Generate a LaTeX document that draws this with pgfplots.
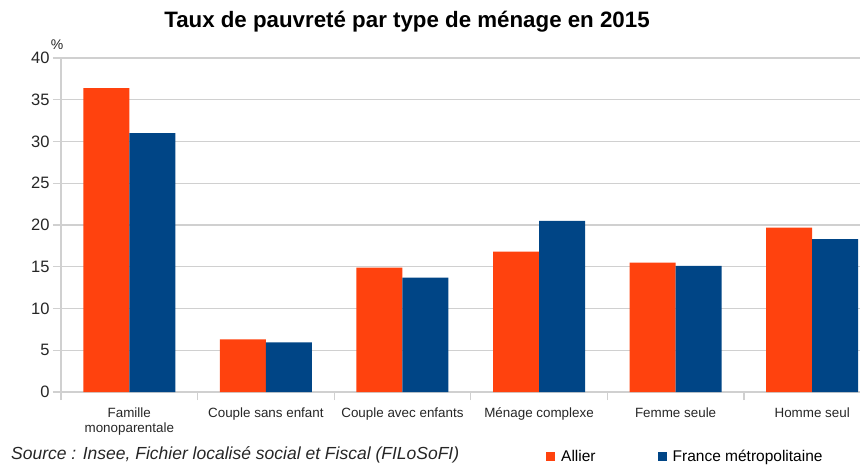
\documentclass[border=0pt]{standalone}
\usepackage{pgfplots}
\pgfplotsset{compat=1.18}
\usepackage{fontspec}
\setmainfont{Liberation Sans}
\definecolor{allier}{HTML}{FF420E}
\definecolor{france}{HTML}{004586}
\definecolor{gridc}{HTML}{D0D0D0}
\begin{document}
\begin{tikzpicture}[x=1pt,y=1pt]
\path[use as bounding box] (0,0) rectangle (860,464);
\begin{axis}[
  at={(61pt,72pt)}, anchor=south west,
  scale only axis, width=799pt, height=334pt,
  xmin=-0.5, xmax=5.35, ymin=0, ymax=40,
  ybar=0pt, bar width=46pt,
  axis lines*=left,
  axis line style={-, draw=gridc, line width=1.2pt},
  ytick={0,5,...,40},
  ymajorgrids, grid style={draw=gridc, line width=1.2pt},
  xtick={0,...,5},
  xticklabels={Famille\\monoparentale, Couple sans enfant, Couple avec enfants, Ménage complexe, Femme seule, Homme seul},
  minor xtick={-0.5,0.5,...,5.5},
  tick align=outside, major tick length=8pt, minor tick length=8pt,
  tick style={draw=gridc, line width=1.2pt},
  major x tick style={draw=none},
  xticklabel style={align=center, font=\fontsize{13.4}{15}\selectfont, text=black!85, yshift=-4pt},
  yticklabel style={font=\fontsize{16.5}{18}\selectfont, text=black!85},
  /pgf/number format/assume math mode=true,
  legend style={at={(0.607,-0.1946)}, anchor=west, draw=none, inner sep=0pt,
    font=\fontsize{15.5}{18}\selectfont, legend columns=2,
    /tikz/every even column/.append style={column sep=60pt}},
]
\addplot[fill=allier, draw=none, legend image code/.code={\fill[allier] (0pt,-4.5pt) rectangle (9pt,4.5pt);}]
  coordinates {(0,36.4) (1,6.3) (2,14.9) (3,16.8) (4,15.5) (5,19.7)};
\addplot[fill=france, draw=none, legend image code/.code={\fill[france] (0pt,-4.5pt) rectangle (9pt,4.5pt);}]
  coordinates {(0,31.0) (1,5.95) (2,13.7) (3,20.5) (4,15.1) (5,18.3)};
\legend{\hspace{4pt}Allier, \hspace{4pt}France métropolitaine}
\end{axis}
\node[font=\bfseries\fontsize{22.3}{25}\selectfont] at (407,442) {Taux de pauvreté par type de ménage en 2015};
\node[font=\fontsize{14}{16}\selectfont, text=black!85] at (57,419) {\%};
\node[anchor=base west, inner sep=0pt, font=\itshape\fontsize{17.5}{20}\selectfont, text=black!85] at (11,4.2) {Source : Insee, Fichier localisé social et Fiscal (FILoSoFI)};
\end{tikzpicture}
\end{document}
